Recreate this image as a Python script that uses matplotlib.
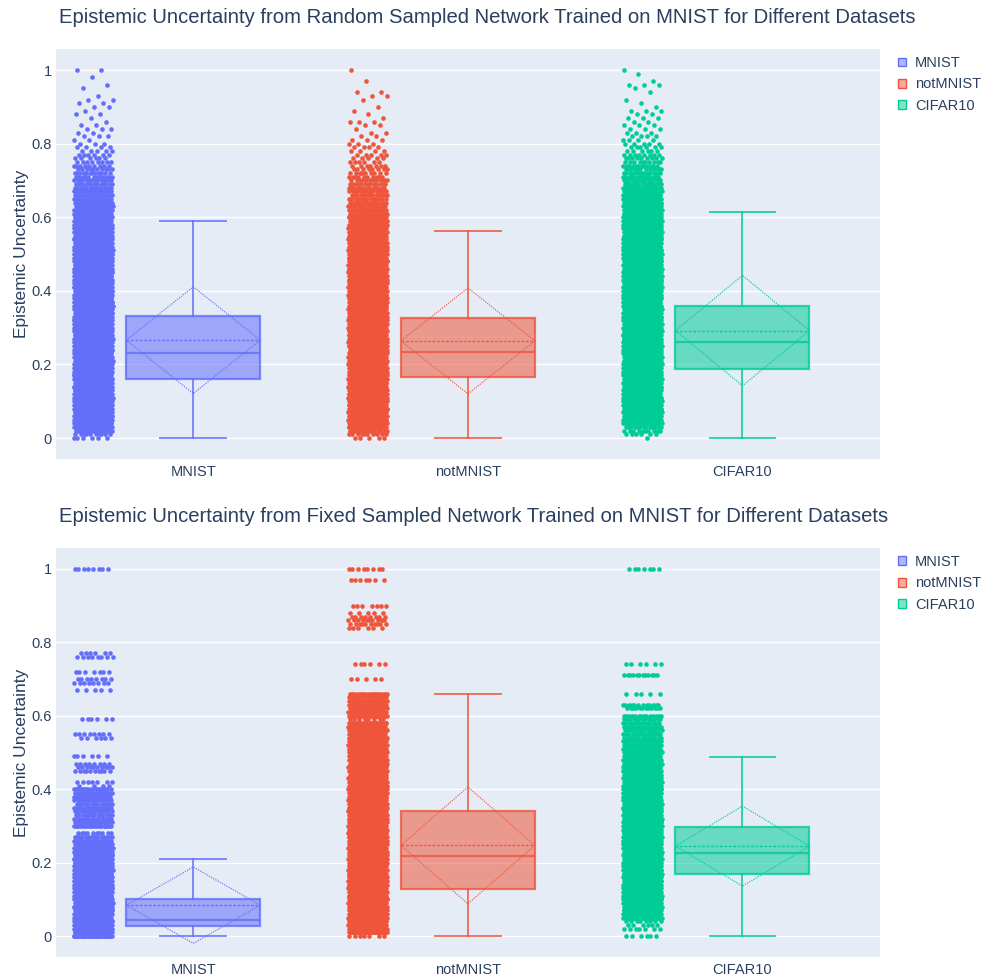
import numpy as np
import matplotlib
matplotlib.use("Agg")
import matplotlib.pyplot as plt
import matplotlib.patches as mpatches
from matplotlib.colors import to_rgba

plt.rcParams['font.family'] = ['Liberation Sans', 'DejaVu Sans']

datasets = ["MNIST", "notMNIST", "CIFAR10"]
colors = ["#636efa", "#EF553B", "#00cc96"]
titles = [
    "Epistemic Uncertainty from Random Sampled Network Trained on MNIST for Different Datasets",
    "Epistemic Uncertainty from Fixed Sampled Network Trained on MNIST for Different Datasets",
]
yticks = [0, 0.2, 0.4, 0.6, 0.8, 1]
ytick_labels = ["0", "0.2", "0.4", "0.6", "0.8", "1"]

# uncertainty levels (0.00 .. 1.00) and how many samples sit on each level
levels = [round(i * 0.01, 2) for i in range(101)]

random_mnist = [
    6, 10, 16, 30, 40, 40, 40, 40, 40, 40,
    40, 40, 40, 40, 40, 40, 40, 40, 40, 40,
    40, 40, 40, 40, 40, 40, 40, 40, 40, 40,
    40, 40, 40, 40, 40, 40, 40, 40, 40, 40,
    40, 40, 40, 40, 40, 40, 40, 40, 40, 40,
    40, 40, 40, 40, 40, 36, 34, 32, 30, 28,
    26, 26, 24, 24, 22, 20, 20, 18, 16, 15,
    14, 12, 12, 10, 9, 8, 6, 6, 5, 4,
    3, 2, 3, 2, 3, 2, 1, 1, 2, 1,
    2, 2, 2, 1, 0, 1, 1, 0, 1, 0,
    2]
random_notmnist = [
    5, 10, 18, 30, 40, 40, 40, 40, 40, 40,
    40, 40, 40, 40, 40, 40, 40, 40, 40, 40,
    40, 40, 40, 40, 40, 40, 40, 40, 40, 40,
    40, 40, 40, 40, 40, 40, 40, 40, 40, 40,
    40, 40, 40, 40, 40, 40, 40, 40, 40, 40,
    40, 40, 40, 38, 36, 34, 32, 30, 28, 26,
    24, 22, 22, 20, 20, 18, 16, 15, 14, 13,
    12, 10, 9, 8, 7, 6, 5, 5, 4, 4,
    3, 3, 2, 2, 1, 2, 3, 1, 1, 1,
    1, 0, 1, 2, 2, 0, 0, 1, 0, 0,
    1]
random_cifar = [
    1, 6, 10, 16, 30, 40, 40, 40, 40, 40,
    40, 40, 40, 40, 40, 40, 40, 40, 40, 40,
    40, 40, 40, 40, 40, 40, 40, 40, 40, 40,
    40, 40, 40, 40, 40, 40, 40, 40, 40, 40,
    40, 40, 40, 40, 40, 40, 40, 40, 40, 40,
    40, 40, 40, 40, 40, 40, 40, 40, 40, 40,
    38, 36, 34, 32, 30, 28, 26, 24, 22, 20,
    18, 16, 14, 12, 12, 10, 9, 8, 6, 6,
    5, 4, 4, 3, 3, 3, 2, 3, 2, 3,
    1, 1, 1, 0, 1, 1, 3, 1, 0, 1,
    1]

fixed_mnist = [
    40, 40, 40, 40, 40, 40, 40, 40, 40, 40,
    40, 40, 40, 40, 40, 40, 40, 40, 40, 40,
    40, 40, 40, 40, 32, 24, 22, 18, 10, 0,
    22, 20, 14, 18, 20, 20, 14, 18, 20, 22,
    16, 4, 7, 0, 0, 10, 10, 8, 0, 6,
    0, 0, 0, 0, 6, 8, 0, 0, 0, 6,
    0, 0, 0, 0, 0, 0, 0, 5, 0, 8,
    8, 0, 7, 0, 0, 0, 8, 6, 0, 0,
    0, 0, 0, 0, 0, 0, 0, 0, 0, 0,
    0, 0, 0, 0, 0, 0, 0, 0, 0, 0,
    8]
fixed_notmnist = [
    7, 40, 40, 40, 40, 40, 40, 40, 40, 40,
    40, 40, 40, 40, 40, 40, 40, 40, 40, 40,
    40, 40, 40, 40, 40, 40, 40, 40, 40, 40,
    40, 40, 40, 40, 40, 40, 40, 40, 40, 40,
    40, 40, 40, 32, 28, 30, 26, 30, 28, 24,
    30, 26, 28, 30, 28, 24, 30, 28, 26, 8,
    22, 24, 22, 20, 22, 20, 18, 0, 0, 0,
    5, 0, 0, 0, 6, 0, 0, 0, 0, 0,
    0, 0, 0, 0, 6, 10, 10, 8, 5, 0,
    7, 0, 0, 0, 0, 0, 0, 7, 0, 0,
    8]
fixed_cifar = [
    6, 0, 7, 6, 8, 30, 40, 40, 40, 40,
    40, 40, 40, 40, 40, 40, 40, 40, 40, 40,
    40, 40, 40, 40, 40, 40, 40, 40, 40, 40,
    40, 40, 40, 40, 40, 40, 40, 40, 40, 40,
    40, 40, 40, 30, 28, 30, 26, 28, 30, 26,
    28, 24, 26, 22, 18, 20, 16, 18, 16, 16,
    14, 0, 12, 12, 0, 0, 5, 0, 0, 0,
    0, 12, 0, 0, 6, 0, 0, 0, 0, 0,
    0, 0, 0, 0, 0, 0, 0, 0, 0, 0,
    0, 0, 0, 0, 0, 0, 0, 0, 0, 0,
    7]

counts = [
    [random_mnist, random_notmnist, random_cifar],
    [fixed_mnist, fixed_notmnist, fixed_cifar],
]

# box summaries per panel: MNIST, notMNIST, CIFAR10
q1 = [[0.161, 0.167, 0.188], [0.026, 0.127, 0.170]]
median = [[0.230, 0.235, 0.260], [0.045, 0.218, 0.227]]
q3 = [[0.332, 0.327, 0.359], [0.100, 0.340, 0.298]]
whisker_lo = [[0.0, 0.0, 0.0], [0.0, 0.0, 0.0]]
whisker_hi = [[0.590, 0.563, 0.613], [0.210, 0.658, 0.489]]
mean = [[0.266, 0.264, 0.292], [0.084, 0.247, 0.245]]
sd = [[0.145, 0.144, 0.150], [0.104, 0.159, 0.109]]

bg = "#E5ECF6"
text_color = "#2a3f5f"
box_half = 0.244
cap_half = 0.12
pts_offset = -0.365
pts_half = 0.071
golden = 0.6180339887

fig = plt.figure(figsize=(9.83, 9.76), dpi=100)
axes = [fig.add_axes([0.057, 0.5297, 0.838, 0.42]),
        fig.add_axes([0.057, 0.0195, 0.838, 0.419])]
title_y = [0.9816, 0.4703]

for p, ax in enumerate(axes):
    ax.set_facecolor(bg)
    for s in ax.spines.values():
        s.set_visible(False)
    ax.set_xlim(-0.5, 2.5)
    ax.set_ylim(-0.057, 1.057)
    ax.set_yticks(yticks)
    ax.set_yticklabels(ytick_labels)
    ax.set_xticks(range(len(datasets)))
    ax.set_xticklabels(datasets)
    ax.tick_params(length=0, labelsize=10.5, colors=text_color)
    ax.tick_params(axis='y', pad=3)
    ax.tick_params(axis='x', pad=4)
    ax.grid(axis='y', color='white', lw=1)
    ax.set_axisbelow(True)

    for c, name in enumerate(datasets):
        col = colors[c]
        # jittered sample points to the left of the box
        ys = np.repeat(levels, counts[p][c])
        j = np.arange(len(ys))
        u = (j * golden + c * 0.31) % 1.0
        xs = c + pts_offset + (u - 0.5) * 2 * pts_half
        ax.scatter(xs, ys, s=11, color=col, linewidths=0, zorder=3)

        stats = [dict(med=median[p][c], q1=q1[p][c], q3=q3[p][c],
                      whislo=whisker_lo[p][c], whishi=whisker_hi[p][c],
                      fliers=[])]
        ax.bxp(stats, positions=[c], widths=2 * box_half, capwidths=2 * cap_half,
               patch_artist=True, showfliers=False, manage_ticks=False,
               boxprops=dict(facecolor=to_rgba(col, 0.55), edgecolor=to_rgba(col, 0.8), lw=1.6),
               whiskerprops=dict(color=to_rgba(col, 0.8), lw=1.4),
               capprops=dict(color=to_rgba(col, 0.8), lw=1.4),
               medianprops=dict(color=to_rgba(col, 0.8), lw=1.6),
               zorder=4)

        m, d = mean[p][c], sd[p][c]
        ax.plot([c - box_half, c + box_half], [m, m], color=col, lw=1.0,
                ls=(0, (2, 1.2)), alpha=0.9, zorder=5)
        ax.plot([c - box_half, c, c + box_half, c, c - box_half],
                [m, m + d, m, m - d, m], color=col, lw=0.9,
                ls=(0, (1, 1)), alpha=0.9, zorder=5)

    fig.text(0.06, title_y[p], titles[p], fontsize=14.6, color=text_color,
             ha='left', va='center')
    ax.set_ylabel("Epistemic Uncertainty", fontsize=12.5, color=text_color)
    ax.yaxis.set_label_coords(-0.033, 0.5)

    handles = [mpatches.Patch(facecolor=to_rgba(col, 0.5), edgecolor=col, lw=1, label=name)
               for name, col in zip(datasets, colors)]
    leg = ax.legend(handles=handles, loc='upper left', bbox_to_anchor=(1.019, 0.99),
                    frameon=False, fontsize=10.5, handlelength=0.55, handleheight=0.55,
                    handletextpad=0.6, labelspacing=0.5, borderaxespad=0, borderpad=0.2)
    for t in leg.get_texts():
        t.set_color(text_color)

fig.savefig("out.png", dpi=100, facecolor='white')
